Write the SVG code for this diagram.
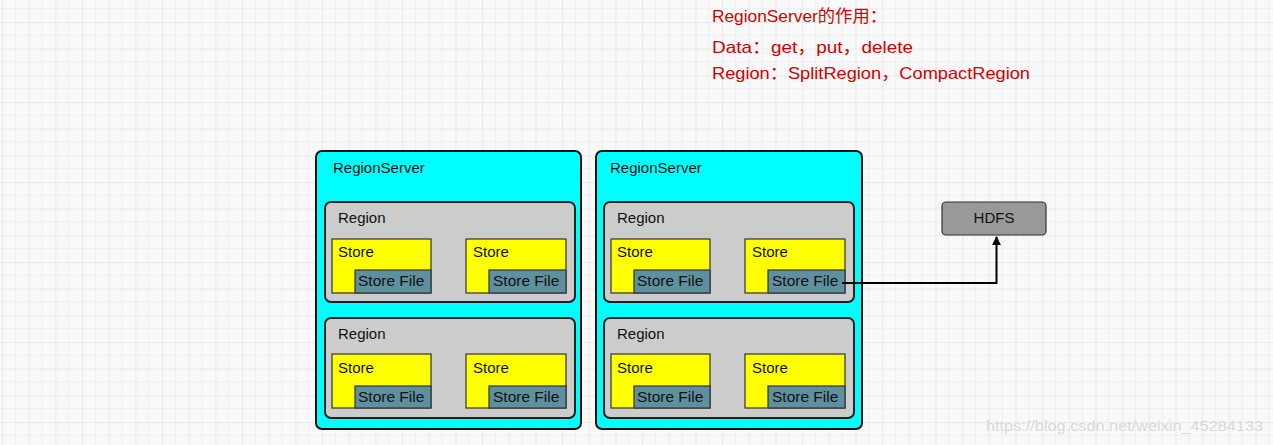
<svg xmlns="http://www.w3.org/2000/svg" width="1273" height="445" viewBox="0 0 1273 445">
  <defs>
    <pattern id="grid" x="2" y="-4.67" width="26.67" height="26.67" patternUnits="userSpaceOnUse">
      <rect width="26.67" height="26.67" fill="#f9f9f9"/>
      <path d="M13.33 0V26.67M0 13.33H26.67" stroke="#efefef" stroke-width="1" fill="none"/>
      <path d="M0 0V26.67M0 0H26.67" stroke="#e9e9e9" stroke-width="2" fill="none"/>
    </pattern>
    <marker id="arrow" viewBox="0 0 10 10" refX="9" refY="5" markerWidth="9" markerHeight="9" markerUnits="userSpaceOnUse" orient="auto">
      <path d="M0 0L10 5L0 10Z" fill="#000"/>
    </marker>
    <style>
      text { font-family: "Liberation Sans", Arial, "Noto Sans CJK SC", sans-serif; fill: #111; }
      .lbl { font-size: 15px; }
      .sf { font-size: 15.5px; }
      .red { font-size: 16.5px; fill: #d40000; }
      .rs { fill: #00ffff; stroke: #111; stroke-width: 2; }
      .rg { fill: #cccccc; stroke: #222; stroke-width: 2; }
      .st { fill: #ffff00; stroke: #333; stroke-width: 1.2; }
      .fl { fill: #5e90a0; stroke: #333; stroke-width: 1.2; }
      .hd { fill: #999999; stroke: #333; stroke-width: 1.2; }
      .conn { stroke: #000; stroke-width: 2; fill: none; }
    </style>
  </defs>
  <rect width="1273" height="445" fill="url(#grid)"/>

  <g id="notes">
    <text class="red" x="712" y="22" textLength="175" lengthAdjust="spacingAndGlyphs">RegionServer的作用：</text>
    <text class="red" x="712" y="53" textLength="201" lengthAdjust="spacingAndGlyphs">Data：get，put，delete</text>
    <text class="red" x="712" y="79" textLength="318" lengthAdjust="spacingAndGlyphs">Region：SplitRegion，CompactRegion</text>
  </g>

  <g id="regionserver1">
    <rect class="rs" x="316" y="151" width="265" height="278" rx="6"/>
    <text class="lbl" x="333" y="173">RegionServer</text>
    <g id="rs1-region1">
      <rect class="rg" x="325" y="202" width="250" height="100" rx="6"/>
      <text class="lbl" x="338" y="223">Region</text>
      <rect class="st" x="332" y="239" width="99" height="54"/>
      <text class="lbl" x="338" y="257">Store</text>
      <rect class="fl" x="355" y="270" width="76" height="23"/>
      <text class="sf" x="358" y="286">Store File</text>
      <rect class="st" x="466" y="239" width="100" height="54"/>
      <text class="lbl" x="473" y="257">Store</text>
      <rect class="fl" x="489" y="270" width="77" height="23"/>
      <text class="sf" x="493" y="286">Store File</text>
    </g>
    <g id="rs1-region2">
      <rect class="rg" x="325" y="318" width="250" height="100" rx="6"/>
      <text class="lbl" x="338" y="339">Region</text>
      <rect class="st" x="332" y="354" width="99" height="54"/>
      <text class="lbl" x="338" y="373">Store</text>
      <rect class="fl" x="355" y="386" width="76" height="22"/>
      <text class="sf" x="358" y="402">Store File</text>
      <rect class="st" x="466" y="354" width="100" height="54"/>
      <text class="lbl" x="473" y="373">Store</text>
      <rect class="fl" x="489" y="386" width="77" height="22"/>
      <text class="sf" x="493" y="402">Store File</text>
    </g>
  </g>

  <g id="regionserver2">
    <rect class="rs" x="596" y="151" width="266" height="278" rx="6"/>
    <text class="lbl" x="610" y="173">RegionServer</text>
    <g id="rs2-region1">
      <rect class="rg" x="604" y="202" width="250" height="100" rx="6"/>
      <text class="lbl" x="617" y="223">Region</text>
      <rect class="st" x="611" y="239" width="99" height="54"/>
      <text class="lbl" x="617" y="257">Store</text>
      <rect class="fl" x="634" y="270" width="76" height="23"/>
      <text class="sf" x="637" y="286">Store File</text>
      <rect class="st" x="745" y="239" width="100" height="54"/>
      <text class="lbl" x="752" y="257">Store</text>
      <rect class="fl" x="768" y="270" width="77" height="23"/>
      <text class="sf" x="772" y="286">Store File</text>
    </g>
    <g id="rs2-region2">
      <rect class="rg" x="604" y="318" width="250" height="100" rx="6"/>
      <text class="lbl" x="617" y="339">Region</text>
      <rect class="st" x="611" y="354" width="99" height="54"/>
      <text class="lbl" x="617" y="373">Store</text>
      <rect class="fl" x="634" y="386" width="76" height="22"/>
      <text class="sf" x="637" y="402">Store File</text>
      <rect class="st" x="745" y="354" width="100" height="54"/>
      <text class="lbl" x="752" y="373">Store</text>
      <rect class="fl" x="768" y="386" width="77" height="22"/>
      <text class="sf" x="772" y="402">Store File</text>
    </g>
  </g>

  <g id="hdfs">
    <rect class="hd" x="942" y="202" width="104" height="33" rx="4"/>
    <text class="lbl" x="994" y="223" text-anchor="middle">HDFS</text>
  </g>

  <g id="connectors">
    <path class="conn" d="M842 283H996.5V237" marker-end="url(#arrow)"/>
  </g>

  <text x="1263" y="431" text-anchor="end" style="font-size:15px;fill:#d9d9d9" textLength="277" lengthAdjust="spacingAndGlyphs">https://blog.csdn.net/weixin_45284133</text>
</svg>
